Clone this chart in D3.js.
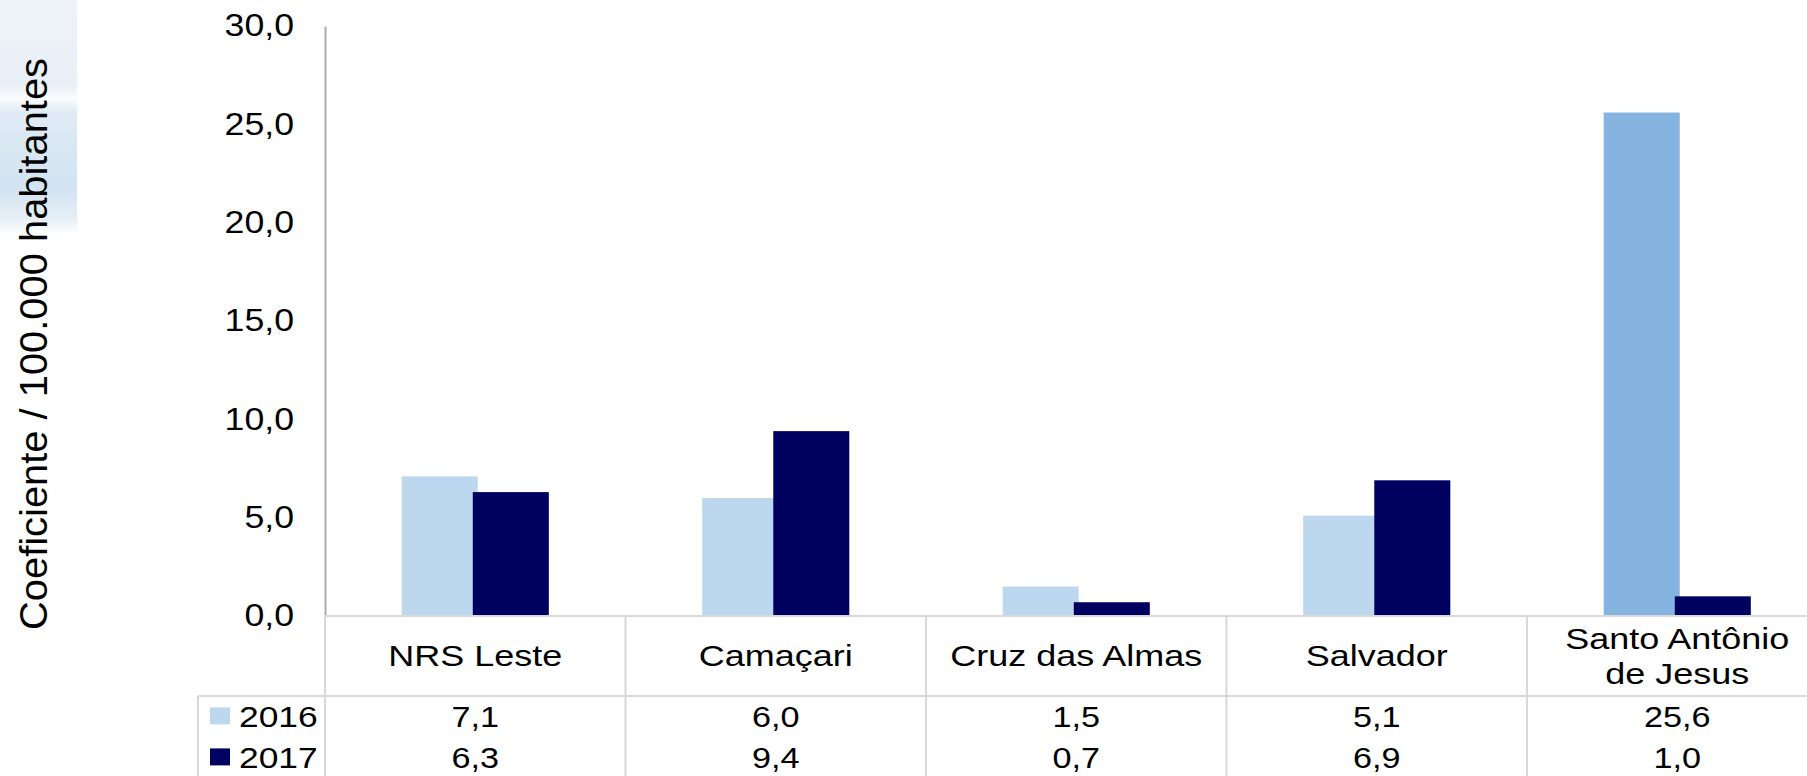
<!DOCTYPE html>
<html>
<head>
<meta charset="utf-8">
<script src="https://cdn.jsdelivr.net/npm/d3@7"></script>
<style>
  html, body { margin: 0; padding: 0; background: #fff; }
  svg { display: block; }
  text { font-family: "Liberation Sans", Arial, sans-serif; fill: #000; }
</style>
</head>
<body>
<div id="chart"></div>
<script>
// data
var categories = ["NRS Leste", "Camaçari", "Cruz das Almas", "Salvador", "Santo Antônio de Jesus"];
var years = ["2016", "2017"];
var values2016 = [7.1, 6.0, 1.5, 5.1, 25.6];
var values2017 = [6.3, 9.4, 0.7, 6.9, 1.0];
var yTicks = [0, 5, 10, 15, 20, 25, 30];
var yTitle = "Coeficiente / 100.000 habitantes";

var series = [
    { name: years[0], values: values2016 },
    { name: years[1], values: values2017 }
];

var width = 1807, height = 776;
var colors = { "2016": "#BDD7EE", "2017": "#000060" };
// one point is coloured apart in the original
var highlight = { year: "2016", category: "Santo Antônio de Jesus", color: "#85B4E0" };
var gridColor = "#D9D9D9";

var plotLeft = 325, plotTop = 26, plotBase = 616;
var labelRowH = 80, rowH = 41, legendLeft = 198;

var br = d3.formatLocale({ decimal: ",", thousands: ".", grouping: [3], currency: ["R$", ""] });
var fmt = br.format(".1f");

// stretch a text horizontally, the original lettering is wider than Arial
function stretch(sel, k) {
    sel.each(function () {
        var w = this.getComputedTextLength();
        d3.select(this).attr("textLength", w * k).attr("lengthAdjust", "spacingAndGlyphs");
    });
}

var svg = d3.select("#chart").append("svg")
    .attr("width", width)
    .attr("height", height);

// pale template swoosh, top left corner
var defs = svg.append("defs");
var grad = defs.append("linearGradient").attr("id", "swoosh")
    .attr("x1", 0).attr("y1", 0).attr("x2", 0).attr("y2", 1);
[[0, "#EEF3F8"], [0.36, "#E8EFF6"], [0.42, "#FAFCFD"], [0.48, "#DFEAF4"], [0.8, "#D2E3F1"], [0.93, "#E6EFF6"], [1, "#FFFFFF"]]
    .forEach(function (s) {
        grad.append("stop").attr("offset", s[0]).attr("stop-color", s[1]);
    });
svg.append("rect")
    .attr("x", 0).attr("y", 0)
    .attr("width", 77).attr("height", 235)
    .attr("fill", "url(#swoosh)");

var x = d3.scaleBand()
    .domain(categories)
    .range([plotLeft, plotLeft + 5 * 300.5])
    .padding(0);

var y = d3.scaleLinear()
    .domain([0, 30])
    .range([plotBase, plotTop]);

var band = x.bandwidth();
var barW = band * 0.253;
var step = barW * 0.935;

// bars
var groups = svg.append("g").attr("class", "bars")
    .selectAll(".series").data(series).enter().append("g")
    .attr("class", "series");

groups.selectAll("rect")
    .data(function (s, si) {
        return s.values.map(function (v, i) {
            return { year: s.name, idx: si, category: categories[i], value: v };
        });
    })
    .enter().append("rect")
    .attr("x", function (d) {
        return x(d.category) + band / 2 - (barW + step) / 2 + d.idx * step;
    })
    .attr("y", function (d) { return y(d.value); })
    .attr("width", barW)
    .attr("height", function (d) { return y(0) - y(d.value); })
    .attr("fill", function (d) {
        if (d.year === highlight.year && d.category === highlight.category) return highlight.color;
        return colors[d.year];
    });

// y axis
var yAxis = svg.append("g")
    .attr("transform", "translate(" + plotLeft + ",0)")
    .call(d3.axisLeft(y).tickValues(yTicks).tickSize(0).tickSizeOuter(0).tickPadding(31).tickFormat(fmt));
yAxis.select(".domain").attr("stroke", "#ABABAB").attr("stroke-width", 2);
yAxis.selectAll("text")
    .style("font-family", "Liberation Sans, Arial, sans-serif")
    .style("font-size", "31px")
    .attr("fill", "#000")
    .call(stretch, 1.15);

svg.append("text")
    .attr("transform", "translate(47,344) rotate(-90)")
    .attr("text-anchor", "middle")
    .style("font-size", "39px")
    .text(yTitle)
    .attr("textLength", 572)
    .attr("lengthAdjust", "spacingAndGlyphs");

// data table under the plot
var table = svg.append("g").attr("class", "table");
var tableBottom = plotBase + labelRowH + 2 * rowH + 10;
var plotRight = plotLeft + 5 * band;

table.append("line")
    .attr("x1", plotLeft).attr("x2", plotRight)
    .attr("y1", plotBase).attr("y2", plotBase)
    .attr("stroke", gridColor).attr("stroke-width", 2);

table.append("line")
    .attr("x1", legendLeft).attr("x2", plotRight)
    .attr("y1", plotBase + labelRowH).attr("y2", plotBase + labelRowH)
    .attr("stroke", gridColor).attr("stroke-width", 2);

table.append("line")
    .attr("x1", legendLeft).attr("x2", legendLeft)
    .attr("y1", plotBase + labelRowH).attr("y2", tableBottom)
    .attr("stroke", gridColor).attr("stroke-width", 2);

table.selectAll(".vline").data(categories).enter().append("line")
    .attr("class", "vline")
    .attr("x1", function (d) { return x(d); })
    .attr("x2", function (d) { return x(d); })
    .attr("y1", plotBase + 1).attr("y2", tableBottom)
    .attr("stroke", gridColor).attr("stroke-width", 2);

// category labels, wrapped like the original cell
var lineH = 35;
table.selectAll(".cat").data(categories).enter().append("text")
    .attr("class", "cat")
    .attr("text-anchor", "middle")
    .style("font-size", "29px")
    .each(function (d) {
        var t = d3.select(this), node = this;
        var words = d.split(" ");
        var lines = [], cur = [];
        words.forEach(function (w) {
            t.text(cur.concat([w]).join(" "));
            if (node.getComputedTextLength() * 1.24 > band - 40 && cur.length) {
                lines.push(cur.join(" "));
                cur = [w];
            } else {
                cur.push(w);
            }
        });
        lines.push(cur.join(" "));
        t.text(null);
        var cx = x(d) + band / 2;
        var first = plotBase + labelRowH / 2 + 10.4 - (lines.length - 1) * lineH / 2;
        lines.forEach(function (l, i) {
            t.append("tspan")
                .attr("x", cx)
                .attr("y", first + i * lineH)
                .text(l);
        });
    });
table.selectAll(".cat tspan").call(stretch, 1.24);

// value rows
series.forEach(function (s, r) {
    var yb = plotBase + labelRowH + r * rowH + rowH / 2 + 10.4;
    table.selectAll(".val" + r).data(s.values).enter().append("text")
        .attr("class", "val" + r)
        .attr("x", function (d, i) { return x(categories[i]) + band / 2; })
        .attr("y", yb)
        .attr("text-anchor", "middle")
        .style("font-size", "29px")
        .text(function (d) { return fmt(d); })
        .call(stretch, 1.18);

    table.append("rect")
        .attr("x", 210)
        .attr("y", yb - 19.5)
        .attr("width", 20)
        .attr("height", 17)
        .attr("fill", colors[s.name]);

    table.append("text")
        .attr("x", 239)
        .attr("y", yb)
        .style("font-size", "29px")
        .text(s.name)
        .call(stretch, 1.22);
});
</script>
</body>
</html>
